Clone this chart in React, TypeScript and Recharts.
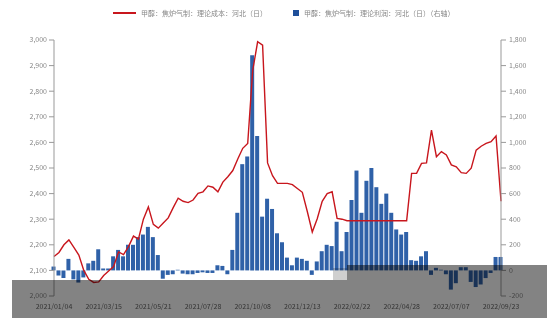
import { ComposedChart, Bar, Line, XAxis, YAxis } from "recharts";

const tickLabels = [
  "2021/01/04", "2021/03/15", "2021/05/21", "2021/07/28", "2021/10/08",
  "2021/12/13", "2022/02/22", "2022/04/28", "2022/07/07", "2022/09/23",
];

// 甲醇：焦炉气制：理论成本：河北（日）
const costSeries = [
  2154, 2170, 2200, 2219, 2190, 2160, 2100, 2065, 2053, 2055,
  2080, 2098, 2115, 2172, 2162, 2193, 2234, 2222, 2300, 2348,
  2280, 2265, 2285, 2305, 2345, 2382, 2370, 2365, 2375, 2401,
  2407, 2430, 2425, 2407, 2445, 2466, 2490, 2535, 2577, 2596,
  2880, 2993, 2980, 2520, 2470, 2440, 2440, 2440, 2435, 2420,
  2405, 2330, 2250, 2302, 2370, 2400, 2407, 2303, 2300, 2294,
  2294, 2294, 2294, 2294, 2294, 2294, 2294, 2294, 2294, 2294, 2294, 2294,
  2479, 2479, 2518, 2520, 2648, 2544, 2564, 2551, 2512, 2505,
  2482, 2479, 2499, 2570, 2585, 2596, 2603, 2625, 2370,
];

// 甲醇：焦炉气制：理论利润：河北（日）（右轴）
const profitSeries = [
  30, -40, -60, 90, -70, -95, -55, 55, 75, 165,
  15, 15, 110, 160, 110, 200, 200, 260, 280, 340,
  260, 120, -65, -35, -30, 5, -25, -30, -30, -20,
  -15, -20, -20, 40, 35, -30, 160, 450, 830, 890,
  1680, 1050, 420, 560, 480, 290, 220, 100, 40, 100,
  90, 75, -35, 70, 150, 200, 190, 380, 150, 300,
  550, 780, 450, 700, 800, 650, 520, 600, 450, 320,
  280, 300, 80, 75, 110, 150, -35, 20, 5, -30,
  -150, -100, 25, 25, -90, -130, -110, -60, -20, 105, 105,
];

const leftTicks = [2000, 2100, 2200, 2300, 2400, 2500, 2600, 2700, 2800, 2900, 3000];
const rightTicks = [-200, 0, 200, 400, 600, 800, 1000, 1200, 1400, 1600, 1800];
const xTicks = [0, 10, 20, 30, 40, 50, 60, 70, 80, 90];

const chartData = costSeries.map((cost, idx) => ({
  idx,
  cost,
  profit: profitSeries[idx],
}));

const RED = "#c8161d";
const BLUE = "#2f61a8";
const fmt = (v: number) => v.toLocaleString("en-US");

const App = () => {
  return (
    <div
      style={{
        position: "absolute",
        left: 0,
        top: 0,
        width: 547,
        height: 318,
        background: "#fff",
        fontFamily: '"Noto Sans CJK SC", sans-serif',
        overflow: "hidden",
      }}
    >
      {/* legend */}
      <div style={{ position: "absolute", left: 113, top: 12, width: 23, height: 2, background: RED }} />
      <span style={{ position: "absolute", left: 141, top: 7, fontSize: 7, lineHeight: "12px", color: "#888" }}>
        甲醇：焦炉气制：理论成本：河北（日）
      </span>
      <div style={{ position: "absolute", left: 293, top: 10, width: 6, height: 6, background: "#1f4f9a" }} />
      <span style={{ position: "absolute", left: 304, top: 7, fontSize: 7, lineHeight: "12px", color: "#888" }}>
        甲醇：焦炉气制：理论利润：河北（日）（右轴）
      </span>

      <ComposedChart
        width={547}
        height={318}
        data={chartData}
        margin={{ top: 40, right: 0, bottom: 0, left: 0 }}
      >
        <XAxis
          dataKey="idx"
          type="number"
          domain={[0, 90]}
          ticks={xTicks}
          interval={0}
          tickFormatter={(v: number) => tickLabels[v / 10]}
          axisLine={false}
          tickLine={false}
          height={22}
          tick={{ fontSize: 7, fill: "#666" }}
        />
        <YAxis
          yAxisId="left"
          domain={[2000, 3000]}
          ticks={leftTicks}
          interval={0}
          width={54}
          tickSize={5}
          tickFormatter={fmt}
          axisLine={{ stroke: "#999" }}
          tickLine={{ stroke: "#999" }}
          tick={{ fontSize: 7, fill: "#888" }}
        />
        <YAxis
          yAxisId="right"
          orientation="right"
          domain={[-200, 1800]}
          ticks={rightTicks}
          interval={0}
          width={46}
          tickSize={5}
          tickMargin={3}
          tickFormatter={fmt}
          axisLine={{ stroke: "#999" }}
          tickLine={{ stroke: "#999" }}
          tick={{ fontSize: 7, fill: "#888" }}
        />
        <Bar
          yAxisId="right"
          dataKey="profit"
          fill={BLUE}
          barSize={4}
          isAnimationActive={false}
        />
        <Line
          yAxisId="left"
          dataKey="cost"
          type="linear"
          stroke={RED}
          strokeWidth={1.4}
          dot={false}
          isAnimationActive={false}
        />
      </ComposedChart>

      {/* grey band over the lower part, as in the reference */}
      <div style={{ position: "absolute", left: 12, top: 280, width: 535, height: 38, background: "#838383", mixBlendMode: "multiply" }} />
      <div style={{ position: "absolute", left: 347, top: 265, width: 200, height: 15, background: "#838383", mixBlendMode: "multiply" }} />
      <div style={{ position: "absolute", left: 333, top: 268, width: 14, height: 12, background: "#cfcfcf", mixBlendMode: "multiply" }} />
    </div>
  );
};

export default App;
